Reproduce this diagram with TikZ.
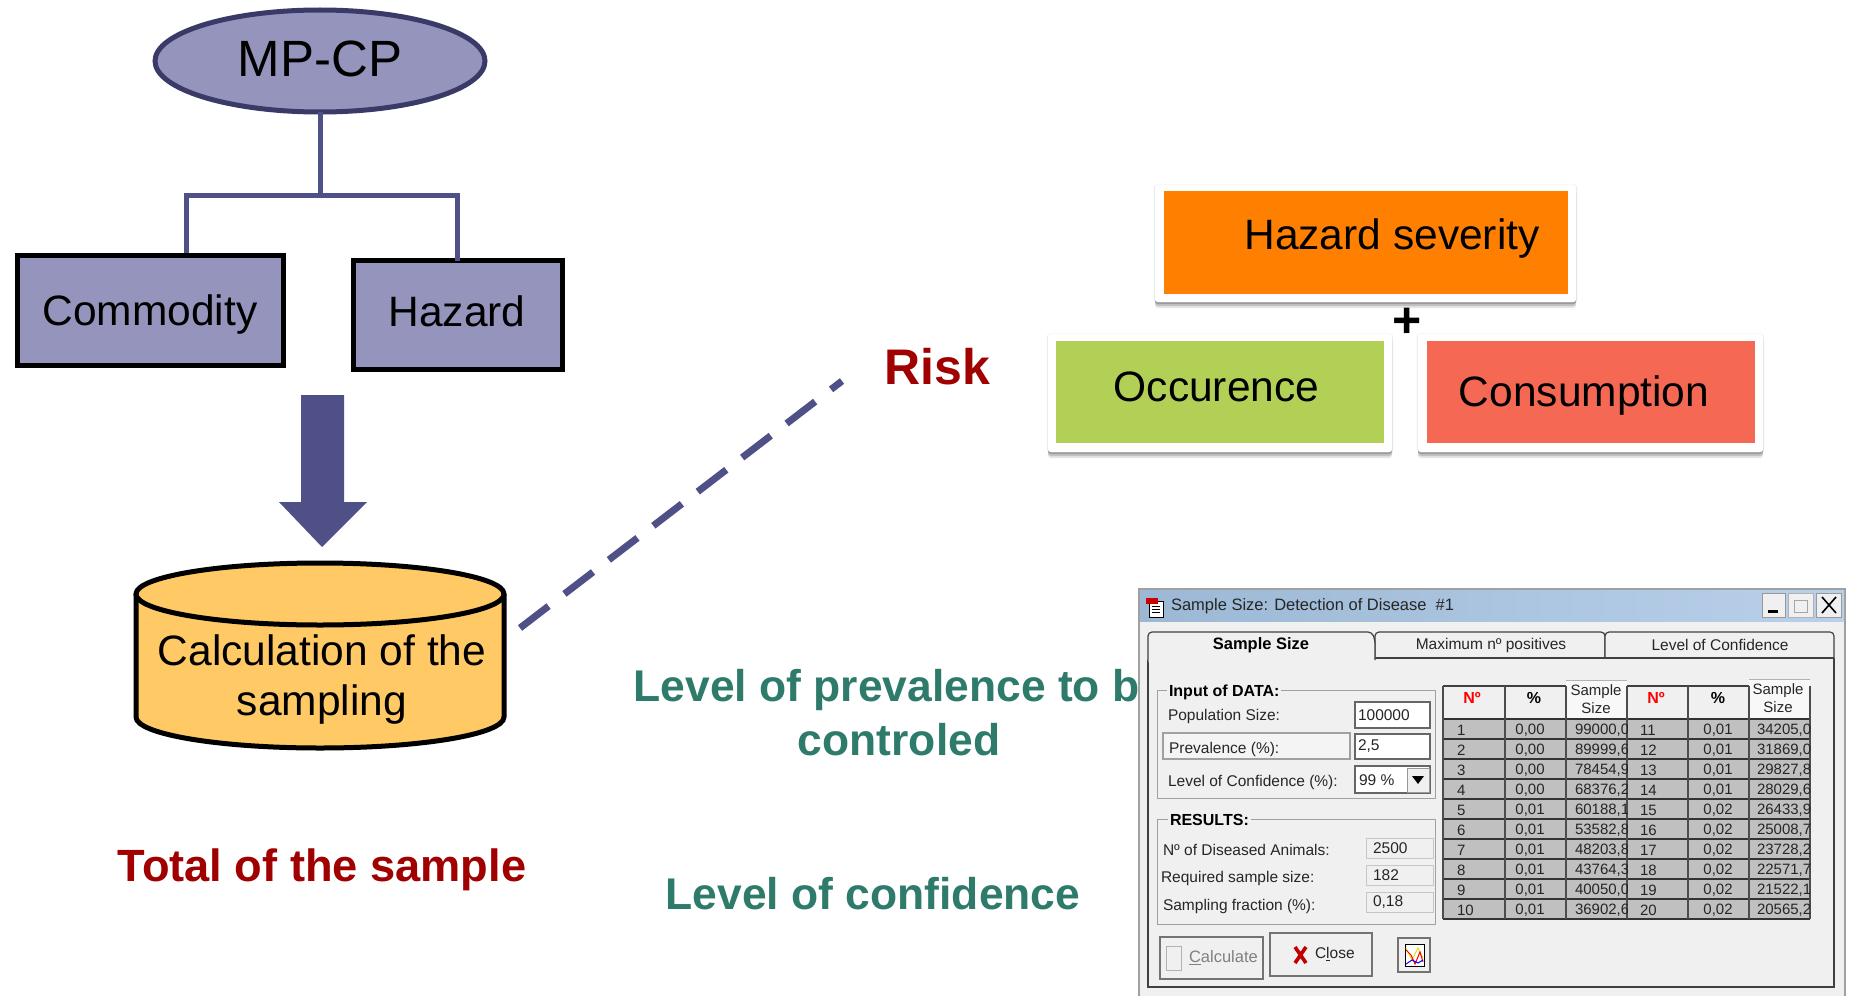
\documentclass[tikz,border=0pt]{standalone}
\usepackage{fontspec}
\setmainfont{Liberation Sans}
\usetikzlibrary{shapes.geometric,shadows,calc}
\definecolor{navy}{HTML}{505088}
\definecolor{navydark}{HTML}{3A3A68}
\definecolor{lilac}{HTML}{9494BC}
\definecolor{amber}{HTML}{FFC966}
\definecolor{darkred}{HTML}{A00000}
\definecolor{teal2}{HTML}{2E7B6B}
\definecolor{winbg}{HTML}{F0F0F0}
\definecolor{gridgray}{HTML}{C0C0C0}
\definecolor{edgegray}{HTML}{A0A0A0}
\definecolor{orangebox}{HTML}{FF8000}
\definecolor{greenbox}{HTML}{B2D055}
\definecolor{redbox}{HTML}{F56954}
\definecolor{titleL}{HTML}{9CB8D4}
\definecolor{titleR}{HTML}{B9D0EA}
\newcommand{\fs}[1]{\fontsize{#1}{#1}\selectfont}
\tikzset{
  x=1pt,y=-1pt,
  every node/.style={inner sep=0pt,outer sep=0pt},
  conn/.style={draw=navy,line width=5pt},
  lilacbox/.style={draw=black,line width=5pt,fill=lilac,rectangle},
  lilactext/.style={font=\fs{42.5}},
  big/.style={font=\fs{42.5},align=center},
  redhead/.style={font=\bfseries\fs{45.2},text=darkred,align=center},
  greenhead/.style={font=\bfseries\fs{44.4},text=teal2,align=center},
  frame/.style={fill=white,draw=white,rounded corners=3pt,
    general shadow={shadow xshift=0pt,shadow yshift=-6pt,opacity=.10,fill=black},
    general shadow={shadow xshift=0pt,shadow yshift=-4pt,opacity=.15,fill=black},
    general shadow={shadow xshift=0pt,shadow yshift=-2pt,opacity=.20,fill=black},
    general shadow={shadow scale=1.006,opacity=.08,fill=black}},
  colorbox/.style={font=\fs{42.5}},
  wt/.style={font=\fs{15.5},text=black!85,anchor=west},
  wb/.style={font=\bfseries\fs{16},text=black,anchor=west,fill=winbg,inner xsep=2pt},
  wc/.style={font=\fs{15.5},text=black!85},
  field/.style={fill=white,draw=black!60,line width=1.5pt},
  rofield/.style={fill=winbg,draw=edgegray!60,line width=1pt},
  group/.style={draw=edgegray,line width=1pt},
  btn/.style={fill=winbg,draw=black!55,line width=1.5pt},
  tabshape/.style={fill=winbg,draw=black!75,line width=1.2pt,rounded corners=4pt},
  cell/.style={font=\fs{15},text=black!85},
  hdr/.style={font=\bfseries\fs{16}},
}
\begin{document}
\begin{tikzpicture}
\useasboundingbox (0,0) rectangle (1849,995.2);
\fill[white] (0,0) rectangle (1849,997);

% left tree
\node[ellipse,draw=navydark,line width=5pt,fill=lilac,minimum width=330pt,minimum height=102pt] (mp) at (320,61) {};
\node[font=\fs{51}] (mptext) at (320,59) {MP-CP};
\node[lilacbox,minimum width=266pt,minimum height=110pt] (com) at (150,310.5) {};
\node[lilactext] (comtext) at (150,315) {Commodity};
\node[lilacbox,minimum width=209pt,minimum height=109pt] (haz) at (457.5,315) {};
\node[lilactext] (haztext) at (457,311.5) {Hazard};
\coordinate (trunk) at (320,195);
\coordinate (comtop) at (186,253);
\draw[conn] (mp.south) -- (trunk);
\draw[conn] (comtop) |- (trunk) -| (haz.north);

% block arrow
\fill[navy] (301,395) -- (344,395) -- (344,502) -- (367,502) -- (322,547) -- (279,502) -- (301,502) -- cycle;

% cylinder
\draw[line width=5pt,fill=amber] (136,594) -- (136,717) arc[start angle=180,end angle=360,x radius=184pt,y radius=31pt] -- (504,594);
\draw[line width=5pt,fill=amber] (320,594) ellipse[x radius=184pt,y radius=31pt];
\node[big] (calc) at (322,679.5) {Calculation of the\\[7.6pt]sampling};

% dashed link
\coordinate (dashA) at (520,628);
\coordinate (dashB) at (842,381);
\draw[navy,line width=7pt,dash pattern=on 36pt off 20pt] (dashA) -- (dashB);

% labels
\node[font=\bfseries\fs{50},text=darkred] (risk) at (937,367) {Risk};
\node[redhead] (total) at (322,869.5) {Total of the sample};
\node[greenhead] (prev) at (899,712.5) {Level of prevalence to be\\[9pt]controled};
\node[greenhead] (conf) at (873,894) {Level of confidence};

% coloured boxes
\path[frame] (1155,185) rectangle (1576,302);
\fill[orangebox] (1164,191) rectangle (1568,294);
\node[colorbox] (sev) at (1392,238.5) {Hazard severity};
\path[frame] (1048,334) rectangle (1392,452);
\fill[greenbox] (1056,341) rectangle (1384,443);
\node[colorbox] (occ) at (1216.5,387) {Occurence};
\path[frame] (1418,334) rectangle (1763,452);
\fill[redbox] (1427,341) rectangle (1755,443);
\node[colorbox] (cons) at (1584,395.5) {Consumption};
\node[font=\bfseries\fs{50}] (plus) at (1407.5,322.5) {+};

% window
\fill[winbg] (1139,589) rectangle (1845,997);
\draw[edgegray,line width=1.5pt] (1139,997) -- (1139,589) -- (1845,589) -- (1845,997);
\shade[left color=titleL,right color=titleR] (1140,590) rectangle (1844,621);
\node[font=\fs{16.5},text=black!85,anchor=west] (title) at (1171,606) {Sample Size: Detection of Disease \ \#1};
% window icon
\draw[black,fill=white,line width=1pt] (1149,601) rectangle (1163,617);
\draw[black,line width=1pt] (1152,606) -- (1160,606) (1152,609) -- (1160,609) (1152,612) -- (1160,612);
\fill[red!80!black] (1146,598) rectangle (1158,604);
% title buttons
\draw[fill=winbg,draw=black!40,line width=1pt] (1762,593) rectangle (1785,617);
\draw[fill=winbg,draw=black!30,line width=1pt] (1788,593) rectangle (1813,617);
\draw[fill=winbg,draw=black!40,line width=1pt] (1816,593) rectangle (1841,617);
\fill[black] (1768,610) rectangle (1778,613);
\draw[draw=black!35,line width=1pt] (1794,600) rectangle (1807,612);
\draw[black,line width=1.6pt] (1822,597) -- (1836,613) (1836,597) -- (1822,613);
% panel
\draw[black!75,line width=1.8pt] (1148,660) -- (1148,987) -- (1834,987) -- (1834,658);
\draw[tabshape] (1375,658) -- (1375,632) -- (1605,632) -- (1605,658);
\draw[tabshape] (1605,658) -- (1605,632) -- (1834,632) -- (1834,658);
\draw[black!75,line width=1.2pt] (1375,658) -- (1834,658);
\draw[tabshape] (1148,662) -- (1148,632) -- (1372,632) -- (1375,640) -- (1375,660);
\node[font=\bfseries\fs{16.5}] (tab1) at (1261,645) {Sample Size};
\node[font=\fs{15.5},text=black!85] (tab2) at (1491,645) {Maximum nº positives};
\node[font=\fs{15.5},text=black!85] (tab3) at (1720,645) {Level of Confidence};

% input group
\draw[group] (1157,690) rectangle (1435,798);
\node[wb] (inp) at (1167,692) {Input of DATA:};
\node[wt] (pop) at (1168,716) {Population Size:};
\draw[field] (1355,702) rectangle (1430,728);
\node[wt] (popv) at (1358,715) {100000};
\draw[draw=edgegray,line width=1.5pt,fill=winbg!70!white] (1163,733) rectangle (1350,759);
\node[wt] (pre) at (1169,749) {Prevalence (\%):};
\draw[field] (1355,734) rectangle (1430,759);
\node[wt] (prev2) at (1358,746) {2,5};
\node[wt] (loc) at (1168,782) {Level of Confidence (\%):};
\draw[field] (1355,766) rectangle (1430,793);
\node[wt] (locv) at (1359,780) {99 \%};
\draw[fill=winbg,draw=black!40,line width=1pt] (1407,768) rectangle (1429,792);
\fill[black] (1412,776) -- (1424,776) -- (1418,784) -- cycle;

% results group
\draw[group] (1157,819) rectangle (1435,924);
\node[wb] (res) at (1168,820) {RESULTS:};
\node[wt] (dis) at (1163,850) {Nº of Diseased Animals:};
\draw[rofield] (1366,838) rectangle (1433,858);
\node[wt] (disv) at (1373,848) {2500};
\node[wt] (req) at (1161,878) {Required sample size:};
\draw[rofield] (1366,865) rectangle (1433,885);
\node[wt] (reqv) at (1373,875) {182};
\node[wt] (fra) at (1163,906) {Sampling fraction (\%):};
\draw[rofield] (1366,892) rectangle (1433,912);
\node[wt] (frav) at (1373,902) {0,18};

% buttons
\draw[btn] (1160,937) rectangle (1263,979);
\draw[draw=black!30,fill=winbg,line width=1pt] (1166,946) rectangle (1181,970);
\node[font=\fs{16.5},text=black!50,anchor=west] (calcb) at (1189,958) {\underline{C}alculate};
\draw[btn] (1270,933) rectangle (1372,976);
\draw[red!75!black,line width=3.6pt] (1295,947) -- (1306,963) (1306,947) -- (1295,963);
\node[font=\fs{15.5},text=black!85,anchor=west] (closeb) at (1315,954) {C\underline{l}ose};
\draw[btn] (1398,938) rectangle (1430,972);
\draw[black,fill=white,line width=1pt] (1405,944) rectangle (1424,966);
\draw[yellow!90!black,line width=1pt] (1406,948) -- (1412,960) -- (1418,948) -- (1423,958);
\draw[red,line width=1pt] (1406,950) -- (1411,955) -- (1415,964) -- (1420,952) -- (1423,962);
\draw[blue,line width=1pt] (1406,964) -- (1412,960) -- (1418,963) -- (1423,960);

% grid
\fill[gridgray] (1443,719) rectangle (1810,919);
\fill[winbg] (1443,686) rectangle (1810,719);
\fill[winbg!50!white] (1566,680) rectangle (1627,720);
\fill[winbg!50!white] (1749,679) rectangle (1810,718);
\draw[black!75,line width=1.5pt] (1443,686) -- (1566,686) (1627,686) -- (1749,686);
\draw[black!30,line width=1pt] (1566,680) -- (1627,680) (1749,679) -- (1810,679);
\foreach \yy in {719,739,...,919}
  \draw[black!80,line width=1.5pt] (1443,\yy) -- (1810,\yy);
\foreach \xx in {1443,1505,1566,1627,1688,1749,1810}
  \draw[black!70,line width=1.2pt] (\xx,686) -- (\xx,919);
\node[hdr,text=red] (h1) at (1472,698) {Nº};
\node[hdr] (h2) at (1534,698) {\%};
\node[wc,align=center,font=\fs{15}] (h3) at (1596,699) {Sample\\[3pt]Size};
\node[hdr,text=red] (h4) at (1656,698) {Nº};
\node[hdr] (h5) at (1718,698) {\%};
\node[wc,align=center,font=\fs{15}] (h6) at (1778,698) {Sample\\[3pt]Size};
\begin{scope}
\clip (1443,719) rectangle (1810,919);
\foreach \r/\na/\pa/\va/\nb/\pb/\vb in {
 0/1/{0,00}/{99000,00}/11/{0,01}/{34205,00},
 1/2/{0,00}/{89999,60}/12/{0,01}/{31869,00},
 2/3/{0,00}/{78454,90}/13/{0,01}/{29827,80},
 3/4/{0,00}/{68376,20}/14/{0,01}/{28029,60},
 4/5/{0,01}/{60188,10}/15/{0,02}/{26433,90},
 5/6/{0,01}/{53582,80}/16/{0,02}/{25008,70},
 6/7/{0,01}/{48203,80}/17/{0,02}/{23728,20},
 7/8/{0,01}/{43764,30}/18/{0,02}/{22571,70},
 8/9/{0,01}/{40050,00}/19/{0,02}/{21522,10},
 9/10/{0,01}/{36902,60}/20/{0,02}/{20565,20}}{
  \node[cell,anchor=west] (a\r) at (1457,{730.5+\r*20}) {\na};
  \node[cell] (b\r) at (1530,{730.5+\r*20}) {\pa};
  \begin{scope}
    \clip (1566,{719+\r*20}) rectangle (1627,{739+\r*20});
    \node[cell,anchor=west] (c\r) at (1575,{730.5+\r*20}) {\va};
  \end{scope}
  \node[cell,anchor=west] (d\r) at (1640,{730.5+\r*20}) {\nb};
  \node[cell] (e\r) at (1718,{730.5+\r*20}) {\pb};
  \begin{scope}
    \clip (1749,{719+\r*20}) rectangle (1810,{739+\r*20});
    \node[cell,anchor=west] (f\r) at (1757,{730.5+\r*20}) {\vb};
  \end{scope}
}
\end{scope}
\end{tikzpicture}
\end{document}
